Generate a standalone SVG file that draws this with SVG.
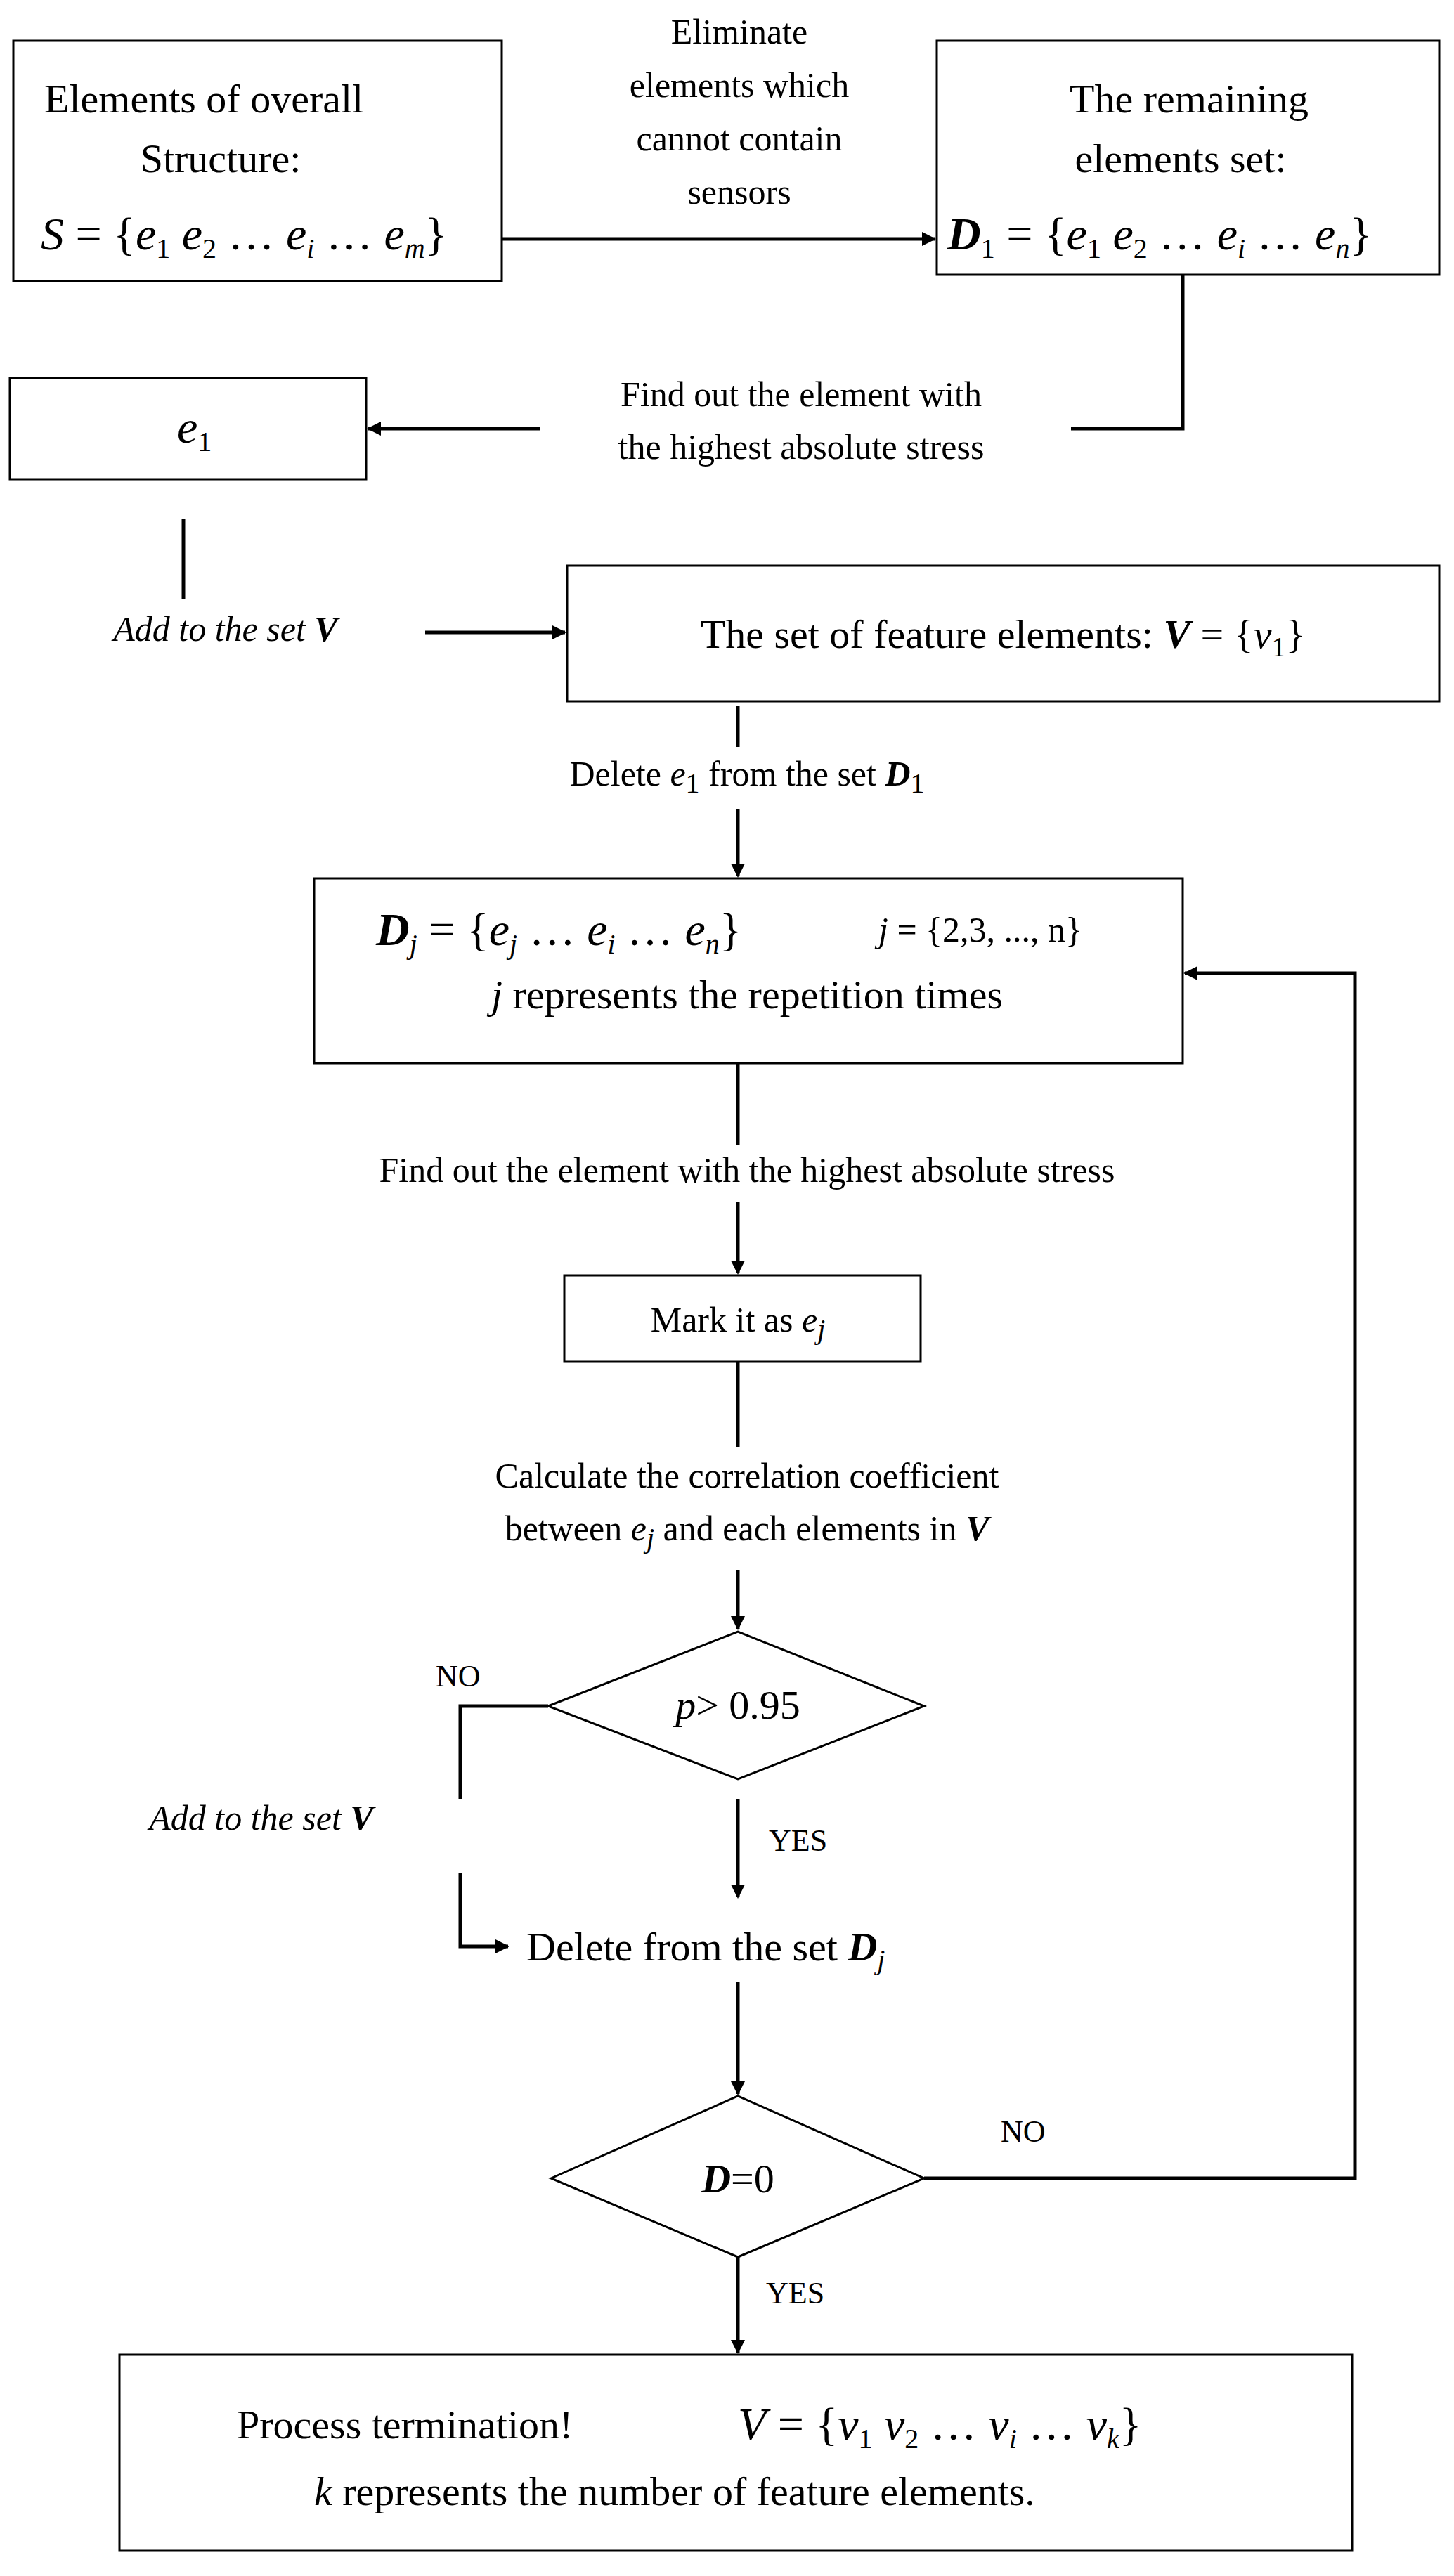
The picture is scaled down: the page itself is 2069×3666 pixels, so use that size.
<svg xmlns="http://www.w3.org/2000/svg" width="2069" height="3666" viewBox="0 0 2069 3666">
<style>
text{font-family:"Liberation Serif","Times New Roman",serif;fill:#000}
.l{font-size:58px}.m{font-size:50px}.s{font-size:44px}.f{font-size:66px}
.i{font-style:italic}.b{font-weight:bold;font-style:italic}
.sub{font-size:40px}
rect,polygon{fill:#fff;stroke:#000;stroke-width:3}
.c{fill:none;stroke:#000;stroke-width:5}
</style>
<defs><marker id="a" viewBox="0 0 10 10" refX="9" refY="5" markerWidth="4" markerHeight="4" orient="auto"><path d="M0,0L10,5L0,10z" fill="#000"/></marker></defs>
<g id="connectors">
<path class="c" d="M714,340H1330" marker-end="url(#a)"/>
<path class="c" d="M1683,391V610H1524"/>
<path class="c" d="M768,610H524" marker-end="url(#a)"/>
<path class="c" d="M261,738V852"/>
<path class="c" d="M605,900H804" marker-end="url(#a)"/>
<path class="c" d="M1050,1005V1063"/>
<path class="c" d="M1050,1152V1247" marker-end="url(#a)"/>
<path class="c" d="M1050,1513V1629"/>
<path class="c" d="M1050,1710V1812" marker-end="url(#a)"/>
<path class="c" d="M1050,1938V2059"/>
<path class="c" d="M1050,2234V2318" marker-end="url(#a)"/>
<path class="c" d="M780,2428H655V2560"/>
<path class="c" d="M655,2665V2770H723" marker-end="url(#a)"/>
<path class="c" d="M1050,2560V2700" marker-end="url(#a)"/>
<path class="c" d="M1050,2820V2980" marker-end="url(#a)"/>
<path class="c" d="M1315,3100H1928V1385H1686" marker-end="url(#a)"/>
<path class="c" d="M1050,3207V3348" marker-end="url(#a)"/>
</g>
<g id="n1"><rect x="19" y="58" width="695" height="342"/>
<text class="l" x="63" y="160">Elements of overall</text>
<text class="l" x="314" y="245" text-anchor="middle">Structure:</text>
<text class="f" x="58" y="355"><tspan class="i">S</tspan> = {<tspan class="i">e</tspan><tspan class="sub" dy="12">1</tspan><tspan dy="-12"> </tspan><tspan class="i">e</tspan><tspan class="sub" dy="12">2</tspan><tspan dy="-12"> … </tspan><tspan class="i">e</tspan><tspan class="sub i" dy="12">i</tspan><tspan dy="-12"> … </tspan><tspan class="i">e</tspan><tspan class="sub i" dy="12">m</tspan><tspan dy="-12">}</tspan></text></g>
<g id="lbl1"><text class="m" text-anchor="middle"><tspan x="1052" y="62">Eliminate</tspan><tspan x="1052" y="138">elements which</tspan><tspan x="1052" y="214">cannot contain</tspan><tspan x="1052" y="290">sensors</tspan></text></g>
<g id="n2"><rect x="1333" y="58" width="715" height="333"/>
<text class="l" x="1692" y="160" text-anchor="middle">The remaining</text>
<text class="l" x="1680" y="245" text-anchor="middle">elements set:</text>
<text class="f" x="1348" y="355"><tspan class="b">D</tspan><tspan class="sub" dy="12">1</tspan><tspan dy="-12"> = {</tspan><tspan class="i">e</tspan><tspan class="sub" dy="12">1</tspan><tspan dy="-12"> </tspan><tspan class="i">e</tspan><tspan class="sub" dy="12">2</tspan><tspan dy="-12"> … </tspan><tspan class="i">e</tspan><tspan class="sub i" dy="12">i</tspan><tspan dy="-12"> … </tspan><tspan class="i">e</tspan><tspan class="sub i" dy="12">n</tspan><tspan dy="-12">}</tspan></text></g>
<g id="lbl2"><text class="m" text-anchor="middle"><tspan x="1140" y="578">Find out the element with</tspan><tspan x="1140" y="653">the highest absolute stress</tspan></text></g>
<g id="n3"><rect x="14" y="538" width="507" height="144"/>
<text class="f" x="252" y="630"><tspan class="i">e</tspan><tspan class="sub" dy="12">1</tspan></text></g>
<g id="lbl3"><text class="m i" x="321" y="912" text-anchor="middle">Add to the set <tspan class="b">V</tspan></text></g>
<g id="n4"><rect x="807" y="805" width="1241" height="193"/>
<text class="l" x="1427" y="922" text-anchor="middle">The set of feature elements:   <tspan class="b">V</tspan> = {<tspan class="i">v</tspan><tspan class="sub" dy="12">1</tspan><tspan dy="-12">}</tspan></text></g>
<g id="lbl4"><text class="m" x="1063" y="1118" text-anchor="middle">Delete <tspan class="i">e</tspan><tspan class="sub" dy="10">1</tspan><tspan dy="-10"> from the set </tspan><tspan class="b">D</tspan><tspan class="sub" dy="10">1</tspan></text></g>
<g id="n5"><rect x="447" y="1250" width="1236" height="263"/>
<text class="f" x="535" y="1345"><tspan class="b">D</tspan><tspan class="sub i" dy="12">j</tspan><tspan dy="-12"> = {</tspan><tspan class="i">e</tspan><tspan class="sub i" dy="12">j</tspan><tspan dy="-12"> … </tspan><tspan class="i">e</tspan><tspan class="sub i" dy="12">i</tspan><tspan dy="-12"> … </tspan><tspan class="i">e</tspan><tspan class="sub i" dy="12">n</tspan><tspan dy="-12">}</tspan></text>
<text class="m" x="1250" y="1340"><tspan class="i">j</tspan> = {2,3, ..., n}</text>
<text class="l" x="1063" y="1435" text-anchor="middle"><tspan class="i">j</tspan> represents the repetition times</text></g>
<g id="lbl5"><text class="m" x="1063" y="1682" text-anchor="middle">Find out the element with the highest absolute stress</text></g>
<g id="n6"><rect x="803" y="1815" width="507" height="123"/>
<text class="m" x="1050" y="1895" text-anchor="middle">Mark it as    <tspan class="i">e</tspan><tspan class="sub i" dy="10">j</tspan></text></g>
<g id="lbl6"><text class="m" text-anchor="middle"><tspan x="1063" y="2117">Calculate the correlation coefficient</tspan><tspan x="1063" y="2192">between <tspan class="i">e</tspan><tspan class="sub i" dy="10">j</tspan><tspan dy="-10"> and each elements in </tspan><tspan class="b">V</tspan></tspan></text></g>
<g id="n7"><polygon points="780,2428 1050,2322 1315,2428 1050,2532"/>
<text class="l" x="1050" y="2446" text-anchor="middle"><tspan class="i">p</tspan>&gt; 0.95</text></g>
<g id="lbl7"><text class="s" x="620" y="2400">NO</text>
<text class="m i" x="372" y="2604" text-anchor="middle">Add to the set <tspan class="b">V</tspan></text>
<text class="s" x="1094" y="2634">YES</text></g>
<g id="n8"><text class="l" x="749" y="2790">Delete from the set <tspan class="b">D</tspan><tspan class="sub i" dy="12">j</tspan></text></g>
<g id="n9"><polygon points="784,3100 1050,2983 1315,3100 1050,3212"/>
<text class="l" x="1050" y="3120" text-anchor="middle"><tspan class="b">D</tspan>=0</text></g>
<g id="lbl9"><text class="s" x="1424" y="3048">NO</text><text class="s" x="1090" y="3278">YES</text></g>
<g id="n10"><rect x="170" y="3351" width="1754" height="279"/>
<text class="l" x="337" y="3470">Process termination!</text>
<text class="f" x="1050" y="3472"><tspan class="i">V</tspan> = {<tspan class="i">v</tspan><tspan class="sub" dy="12">1</tspan><tspan dy="-12"> </tspan><tspan class="i">v</tspan><tspan class="sub" dy="12">2</tspan><tspan dy="-12"> … </tspan><tspan class="i">v</tspan><tspan class="sub i" dy="12">i</tspan><tspan dy="-12"> … </tspan><tspan class="i">v</tspan><tspan class="sub i" dy="12">k</tspan><tspan dy="-12">}</tspan></text>
<text class="l" x="447" y="3565"><tspan class="i">k</tspan> represents the number of feature elements.</text></g>
</svg>
